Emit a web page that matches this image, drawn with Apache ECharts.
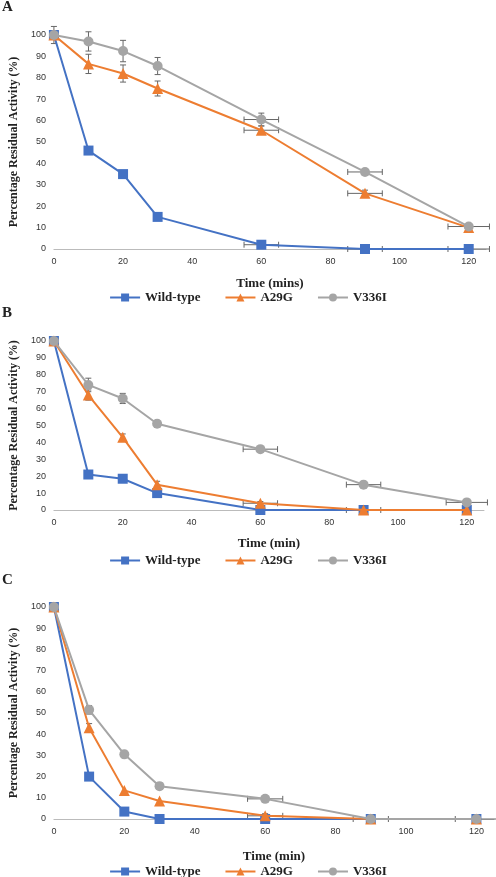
<!DOCTYPE html><html><head><meta charset="utf-8"><script src="https://cdn.jsdelivr.net/npm/echarts@6/dist/echarts.min.js"></script></head><body style="margin:0"><div id="c" style="width:496px;height:877px"></div><script>
const times=[0,10,20,30,60,90,120];
const aWT=[100,46,35,15,2,0,0], aA29G=[100,86.5,82,75,55.5,26,10], aV336I=[100,97,92.5,85.5,60.5,36,10.5];
const bWT=[100,21,18.5,10,0,0,0], bA29G=[100,68,43,15,4,0,0], bV336I=[100,74,66,51,36,15,4.5];
const cWT=[100,20,3.5,0,0,0,0], cA29G=[100,43,13.5,8.5,1.5,0,0], cV336I=[100,51.5,30.5,15.5,9.5,0,0];
// error bars: [time, value, yErr, xErr]
const errA=[[0,100,4,0],[10,86.5,4.5,0],[20,82,4,0],[30,75,3.5,0],[60,55.5,2,5],[90,26,1.5,5],[10,97,4.5,0],[20,92.5,5,0],[30,85.5,4,0],[60,60.5,3,5],[90,36,1.5,5],[120,10.5,1,6],[60,2,1,5],[90,0,0,5],[120,0,0,6]];
const errB=[[10,74,4,0],[20,66,3,0],[30,51,2,0],[60,36,1.5,5],[90,15,1,5],[120,4.5,1,6],[10,68,3,0],[20,43,2,0],[30,15,2,0],[60,4,1,5],[90,0,0,5]];
const errC=[[10,51.5,2,0],[20,30.5,1.5,0],[30,15.5,1.5,0],[60,9.5,1.5,5],[10,43,2,0],[60,1.5,1,5],[90,0,0,5],[120,0,0,6]];
const cols=['#4472C4','#ED7D31','#A5A5A5'];
const names=['Wild-type','A29G','V336I'];
const syms=['rect','triangle','circle'];
const sets=[[aWT,aA29G,aV336I],[bWT,bA29G,bV336I],[cWT,cA29G,cV336I]];
const errs=[errA,errB,errC];
const grids=[{left:52,top:35,width:434,height:214},{left:52,top:341,width:432,height:169},{left:51,top:607,width:443,height:212}];
const xnames=['Time (mins)','Time (min)','Time (min)'];
const nameGaps=[28,27,31];
const legTops=[286,549,860];
const font='"Liberation Serif",serif';
const series=[],xAxis=[],yAxis=[],legend=[];
for(let i=0;i<3;i++){
  xAxis.push({gridIndex:i,type:'value',min:0,max:125,interval:20,axisLabel:{showMaxLabel:false,fontSize:9,color:'#333'},axisLine:{lineStyle:{color:'#bbb'}},axisTick:{show:false},splitLine:{show:false},name:xnames[i],nameLocation:'middle',nameGap:nameGaps[i],nameTextStyle:{fontFamily:font,fontWeight:'bold',fontSize:13,color:'#222'}});
  yAxis.push({gridIndex:i,type:'value',min:0,max:100,interval:10,axisLabel:{fontSize:9,color:'#333'},axisLine:{show:false},axisTick:{show:false},splitLine:{show:false},name:'Percentage Residual Activity (%)',nameLocation:'middle',nameGap:28,nameTextStyle:{fontFamily:font,fontWeight:'bold',fontSize:12,color:'#222'}});
  legend.push({top:legTops[i],left:'center',itemGap:24,itemWidth:30,itemHeight:10,textStyle:{fontFamily:font,fontWeight:'bold',fontSize:13,color:'#222'},data:names.map((n,k)=>({name:n})),selectedMode:false});
  series.push({type:'custom',xAxisIndex:i,yAxisIndex:i,silent:true,z:1,data:errs[i],renderItem:(p,api)=>{
    const x=api.value(0),y=api.value(1),ey=api.value(2),ex=api.value(3);const ch=[];const st={stroke:'#666',lineWidth:1};
    if(ey>0){const a=api.coord([x,y+ey]),b=api.coord([x,y-ey]);ch.push({type:'line',shape:{x1:a[0],y1:a[1],x2:b[0],y2:b[1]},style:st},{type:'line',shape:{x1:a[0]-3,y1:a[1],x2:a[0]+3,y2:a[1]},style:st},{type:'line',shape:{x1:b[0]-3,y1:b[1],x2:b[0]+3,y2:b[1]},style:st});}
    if(ex>0){const a=api.coord([x-ex,y]),b=api.coord([x+ex,y]);ch.push({type:'line',shape:{x1:a[0],y1:a[1],x2:b[0],y2:b[1]},style:st},{type:'line',shape:{x1:a[0],y1:a[1]-3,x2:a[0],y2:a[1]+3},style:st},{type:'line',shape:{x1:b[0],y1:b[1]-3,x2:b[0],y2:b[1]+3},style:st});}
    return {type:'group',children:ch};}});
  for(let k=0;k<3;k++){
    series.push({name:names[k],type:'line',xAxisIndex:i,yAxisIndex:i,data:times.map((t,j)=>[t,sets[i][k][j]]),symbol:syms[k],symbolSize:k==1?11:10,color:cols[k],lineStyle:{width:2,color:cols[k]},itemStyle:{color:cols[k]},z:2+k});
  }
}
const chart=echarts.init(document.getElementById('c'));
chart.setOption({animation:false,backgroundColor:'#fff',grid:grids,xAxis,yAxis,legend,series,
 graphic:[['A',0],['B',306],['C',573]].map(([t,y])=>({type:'text',left:2,top:y,style:{text:t,font:'bold 15px "Liberation Serif",serif',fill:'#222'}}))});
</script></body></html>
